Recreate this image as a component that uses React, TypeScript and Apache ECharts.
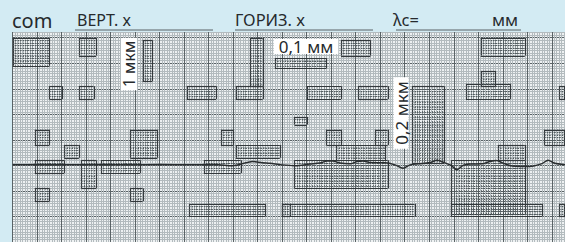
import React, { useEffect, useRef } from "react";
import * as echarts from "echarts";

// Profile trace: x in horizontal grid divisions, y in vertical grid divisions
const traceX = [0, 1.11, 2.34, 3.56, 4.79, 6.01, 7.24, 8.26, 8.99, 9.48, 9.81, 10.18, 10.5, 10.99, 11.52, 12.13, 12.54, 12.83, 13.07, 13.36, 13.77, 14.05, 14.3, 14.58, 15.2, 15.6, 15.93, 16.22, 16.54, 17.03, 17.32, 17.6, 17.89, 18.13, 18.38, 18.67, 19.16, 19.48, 19.73, 20.01, 20.38, 21.11, 21.6, 21.85, 22.09, 22.54];
const traceY = [3.02, 3.03, 3.02, 3.03, 3.02, 3.03, 3.02, 3.03, 2.99, 3.09, 3.15, 3.1, 3.08, 3.02, 2.99, 3.05, 3.09, 3.17, 3.17, 3.09, 3.06, 3.15, 3.17, 3.11, 3.1, 3.02, 2.89, 3.02, 3.06, 3.11, 3.2, 3.11, 3.0, 2.83, 3.0, 3.05, 3.06, 3.15, 3.19, 3.09, 2.98, 2.96, 3.07, 3.2, 3.09, 3.02];

// Darker printed patches of the chart paper: [x0, x1, y0, y1] in grid divisions
const patches = [
  [0, 1.5, 6.9, 8.0], [2.7, 3.4, 7.3, 8.0], [5.3, 5.7, 6.3, 7.9], [1.5, 2.0, 5.6, 6.1],
  [2.7, 3.3, 5.6, 6.1], [7.1, 8.3, 5.6, 6.1], [9.1, 10.2, 5.6, 6.1], [9.7, 10.2, 6.1, 8.0],
  [10.7, 12.8, 6.8, 7.2], [13.4, 14.6, 7.3, 7.9], [19.1, 20.9, 7.3, 8.0], [12.0, 13.4, 5.6, 6.1],
  [14.1, 15.3, 5.6, 6.1], [16.3, 17.6, 3.1, 6.1], [18.5, 20.3, 5.6, 6.2], [19.1, 19.7, 6.1, 6.7],
  [22.3, 22.54, 5.6, 6.1], [0.9, 1.5, 3.8, 4.4], [2.1, 2.7, 3.3, 3.8], [0.9, 2.1, 2.7, 3.2],
  [2.8, 3.4, 2.1, 3.2], [3.6, 5.2, 2.7, 3.2], [4.8, 5.9, 3.3, 4.4], [0.9, 1.5, 1.6, 2.1],
  [4.8, 5.3, 1.6, 2.1], [8.5, 9.0, 3.8, 4.4], [9.1, 10.9, 3.3, 3.8], [7.8, 9.3, 2.7, 3.2],
  [7.2, 10.3, 1.0, 1.5], [11.0, 11.3, 1.0, 1.5], [11.5, 12.0, 4.6, 4.9], [12.8, 13.4, 3.8, 4.4],
  [14.8, 15.3, 3.8, 4.4], [11.5, 15.3, 2.1, 3.2], [13.2, 15.2, 3.2, 3.8], [11.0, 16.4, 1.0, 1.5],
  [17.9, 20.9, 1.1, 3.2], [19.8, 20.9, 3.2, 3.8], [17.9, 21.6, 1.0, 1.5], [21.7, 22.54, 3.8, 4.4],
  [22.3, 22.54, 1.0, 1.5],
];

const headerLabels = ["com", "ВЕРТ. x", "ГОРИЗ. x", "λc=", "мм"];
const scaleLabels = ["1 мкм", "0,1 мм", "0,2 мкм"];

const FONT = "'Noto Sans', 'Open Sans', sans-serif";
const INK = "#262a2d";

export default function App() {
  const ref = useRef<HTMLDivElement>(null);
  useEffect(() => {
    document.body.style.margin = "0";
    const chart = echarts.init(ref.current!, null, { renderer: "svg" });
    const data = traceX.map((x, i) => [x, traceY[i]]);
    const minor = { show: true, lineStyle: { color: "#b3bbbe", width: 1 } };
    const major = { show: true, lineStyle: { color: "#5a6366", width: 1 } };
    const head = (text: string, x: number, size: number) => ({
      type: "text", x, y: 28,
      style: { text, font: `${size}px ${FONT}`, fill: INK, textVerticalAlign: "bottom" },
    });
    const underline = (x1: number, x2: number) => ({
      type: "line", shape: { x1, y1: 30, x2, y2: 30 }, style: { stroke: "#586064", lineWidth: 1 },
    });
    chart.setOption({
      animation: false,
      backgroundColor: "#d3ebf3",
      grid: {
        left: 12.7, right: 0, top: 32, bottom: -7.1,
        show: true, backgroundColor: "#eef1f2", borderWidth: 0,
      },
      xAxis: {
        type: "value", min: 0, max: 22.54, interval: 1,
        axisLine: { show: false }, axisTick: { show: false }, axisLabel: { show: false },
        minorTick: { show: false, splitNumber: 10 },
        splitLine: major, minorSplitLine: minor,
      },
      yAxis: {
        type: "value", min: 0, max: 8.223, interval: 1,
        axisLine: { show: false }, axisTick: { show: false }, axisLabel: { show: false },
        minorTick: { show: false, splitNumber: 10 },
        splitLine: major, minorSplitLine: minor,
      },
      series: [
        {
          type: "custom",
          data: patches,
          z: 1,
          silent: true,
          renderItem: (params: any, api: any) => {
            const x0 = api.value(0), x1 = api.value(1), y0 = api.value(2), y1 = api.value(3);
            const children: any[] = [];
            const inner = { stroke: "#4f585b", lineWidth: 1, lineDash: [1.2, 1.3] };
            const outer = { stroke: "#33393c", lineWidth: 1.2 };
            const a = api.coord([x0, y0]);
            const b = api.coord([x1, y1]);
            const kx0 = Math.ceil(x0 * 10 - 1e-6), kx1 = Math.floor(x1 * 10 + 1e-6);
            for (let k = kx0; k <= kx1; k++) {
              const p = api.coord([k / 10, y0]);
              const px = Math.round(p[0]) + 0.5;
              children.push({ type: "line", shape: { x1: px, y1: b[1], x2: px, y2: a[1] }, style: k === kx0 || k === kx1 ? outer : inner });
            }
            const ky0 = Math.ceil(y0 * 10 - 1e-6), ky1 = Math.floor(y1 * 10 + 1e-6);
            for (let k = ky0; k <= ky1; k++) {
              const p = api.coord([x0, k / 10]);
              const py = Math.round(p[1]) + 0.5;
              children.push({ type: "line", shape: { x1: a[0], y1: py, x2: b[0], y2: py }, style: k === ky0 || k === ky1 ? outer : inner });
            }
            return { type: "group", children };
          },
        },
        {
          type: "line",
          data,
          z: 3,
          symbol: "none",
          smooth: 0.3,
          lineStyle: { color: "#2a2e30", width: 1.5 },
        },
      ],
      graphic: [
        { type: "text", x: 12, y: 30, style: { text: headerLabels[0], font: `20px ${FONT}`, fill: INK, textVerticalAlign: "bottom" } },
        head(headerLabels[1], 77, 16),
        underline(75, 213),
        head(headerLabels[2], 235, 16.5),
        underline(235, 373),
        head(headerLabels[3], 393, 16.5),
        head(headerLabels[4], 492, 17),
        underline(396, 521),
        {
          type: "text", x: 129, y: 64, rotation: Math.PI / 2, z: 100,
          style: { text: scaleLabels[0], font: `16px ${FONT}`, fill: INK, align: "center", verticalAlign: "middle", backgroundColor: "#ffffff", padding: [0, 3] },
        },
        {
          type: "text", x: 306, y: 46.5, z: 100,
          style: { text: scaleLabels[1], font: `17px ${FONT}`, fill: INK, align: "center", verticalAlign: "middle", backgroundColor: "#ffffff", padding: [-1, 5] },
        },
        {
          type: "text", x: 401, y: 113, rotation: Math.PI / 2, z: 100,
          style: { text: scaleLabels[2], font: `17px ${FONT}`, fill: INK, align: "center", verticalAlign: "middle", backgroundColor: "#ffffff", padding: [-1, 4] },
        },
      ],
    });
    return () => chart.dispose();
  }, []);
  return <div ref={ref} style={{ width: 565, height: 242 }} />;
}
